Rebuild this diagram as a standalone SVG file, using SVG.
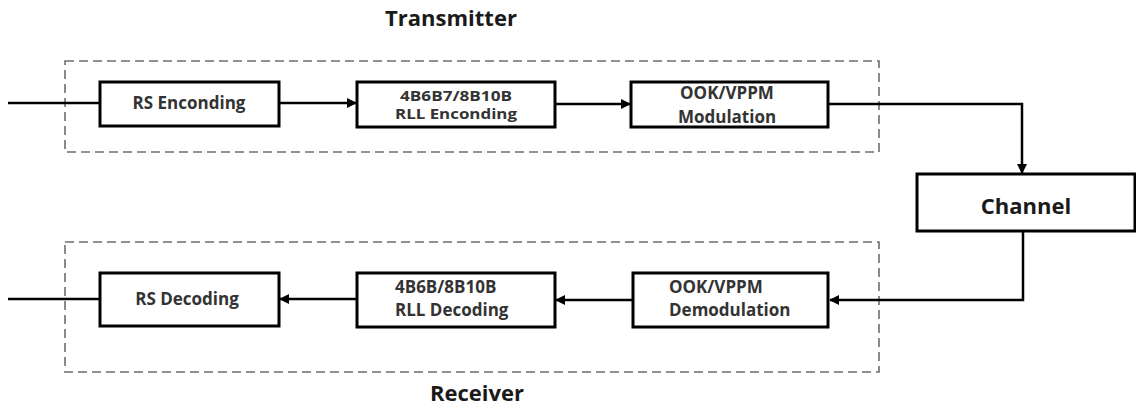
<svg xmlns="http://www.w3.org/2000/svg" width="1136" height="409" viewBox="0 0 1136 409">
<defs>
<style>
.grp{fill:none;stroke:#6e6e6e;stroke-width:1.6;stroke-dasharray:9 5}
.box{fill:#fff;stroke:#000;stroke-width:3}
.t{font-family:"Open Sans","Liberation Sans",sans-serif;font-weight:bold;font-size:17px;fill:#333}
.s{font-size:14.5px}
.title{font-family:"Open Sans","Liberation Sans",sans-serif;font-weight:bold;font-size:22px;fill:#1a1a1a}
.c{fill:none;stroke:#000;stroke-width:2.5}
</style>
<marker id="ah" viewBox="0 0 10 10" refX="9" refY="5" markerWidth="4" markerHeight="4" orient="auto" markerUnits="strokeWidth">
<path d="M0,0 L10,5 L0,10 z" fill="#000"/>
</marker>
</defs>
<rect width="1136" height="409" fill="#fff"/>
<g id="transmitter">
<rect class="grp" x="65" y="61" width="814" height="91"/>
<text class="title" x="451" y="26" text-anchor="middle">Transmitter</text>
</g>
<g id="receiver">
<rect class="grp" x="65" y="242" width="814" height="130"/>
<text class="title" x="477" y="401" text-anchor="middle">Receiver</text>
</g>
<g id="connectors">
<line class="c" x1="8" y1="103" x2="100" y2="103"/>
<line class="c" x1="279" y1="103" x2="356" y2="103" marker-end="url(#ah)"/>
<line class="c" x1="555" y1="104" x2="630" y2="104" marker-end="url(#ah)"/>
<polyline class="c" points="828,104 1022,104 1022,173" marker-end="url(#ah)"/>
<polyline class="c" points="1023,231 1023,300 830,300" marker-end="url(#ah)"/>
<line class="c" x1="633" y1="300" x2="556" y2="300" marker-end="url(#ah)"/>
<line class="c" x1="357" y1="299" x2="280" y2="299" marker-end="url(#ah)"/>
<line class="c" x1="8" y1="299" x2="100" y2="299"/>
</g>
<g id="rs-enc">
<rect class="box" x="100" y="82" width="179" height="44"/>
<text class="t" x="189" y="109" text-anchor="middle">RS Enconding</text>
</g>
<g id="rll-enc">
<rect class="box" x="357" y="82" width="198" height="45"/>
<text class="t s" x="456" y="101" text-anchor="middle" textLength="112" lengthAdjust="spacingAndGlyphs">4B6B7/8B10B</text>
<text class="t s" x="456" y="119" text-anchor="middle" textLength="122" lengthAdjust="spacingAndGlyphs">RLL Enconding</text>
</g>
<g id="mod">
<rect class="box" x="631" y="82" width="197" height="45"/>
<text class="t" x="727" y="99" text-anchor="middle">OOK/VPPM</text>
<text class="t" x="727" y="123" text-anchor="middle">Modulation</text>
</g>
<g id="channel">
<rect class="box" x="917" y="174" width="218" height="57"/>
<text class="title" x="1026" y="214" text-anchor="middle">Channel</text>
</g>
<g id="demod">
<rect class="box" x="633" y="273" width="195" height="54"/>
<text class="t" x="669" y="293">OOK/VPPM</text>
<text class="t" x="669" y="316">Demodulation</text>
</g>
<g id="rll-dec">
<rect class="box" x="357" y="273" width="198" height="54"/>
<text class="t" x="395" y="293">4B6B/8B10B</text>
<text class="t" x="395" y="316">RLL Decoding</text>
</g>
<g id="rs-dec">
<rect class="box" x="100" y="273" width="179" height="53"/>
<text class="t" x="187" y="305" text-anchor="middle">RS Decoding</text>
</g>
</svg>
